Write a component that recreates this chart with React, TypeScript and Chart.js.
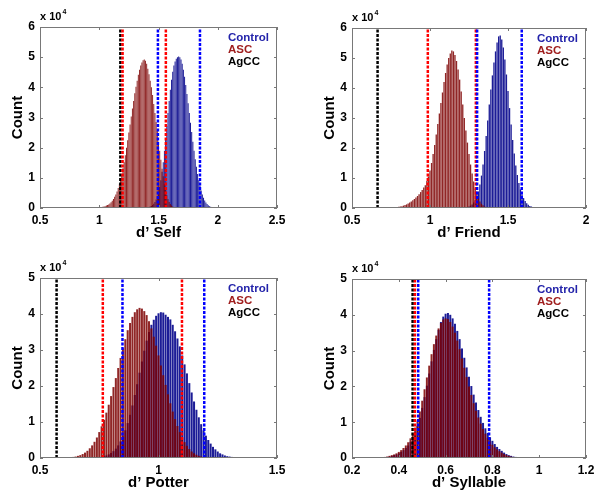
import React, { useEffect, useRef } from "react";
import { Chart, registerables } from "chart.js";
Chart.register(...registerables);

// Histogram bin width (d' units); counts are in units of 10^4
const BIN = 0.01;

// ---- d' Self ----
const selfAscStart = 0.98;
const selfAsc = [0.01, 0.01, 0.02, 0.02, 0.03, 0.04, 0.05, 0.06, 0.08, 0.1, 0.12, 0.15, 0.19, 0.24, 0.3, 0.37, 0.45, 0.55, 0.66, 0.8, 0.95, 1.12, 1.32, 1.52, 1.75, 2.0, 2.25, 2.5, 2.77, 3.03, 3.3, 3.55, 3.8, 4.02, 4.22, 4.42, 4.58, 4.72, 4.82, 4.9, 4.92, 4.88, 4.78, 4.62, 4.43, 4.22, 4.0, 3.75, 3.45, 3.15, 2.85, 2.55, 2.2, 1.9, 1.6, 1.3, 1.05, 0.8, 0.6, 0.43, 0.3, 0.2, 0.13, 0.08, 0.05, 0.03, 0.02, 0.01];
const selfControlStart = 1.4;
const selfControl = [0.01, 0.02, 0.03, 0.05, 0.07, 0.1, 0.14, 0.2, 0.28, 0.38, 0.52, 0.7, 0.92, 1.2, 1.52, 1.9, 2.3, 2.72, 3.15, 3.55, 3.92, 4.25, 4.52, 4.72, 4.86, 4.95, 5.0, 5.02, 5.0, 4.92, 4.78, 4.58, 4.35, 4.08, 3.78, 3.47, 3.15, 2.83, 2.52, 2.2, 1.9, 1.62, 1.37, 1.13, 0.92, 0.74, 0.58, 0.45, 0.34, 0.25, 0.18, 0.13, 0.09, 0.06, 0.04, 0.02, 0.01];
const selfControlLines = [1.495, 1.85];
const selfAscLines = [1.197, 1.562];
const selfAgccLines = [1.178];
const selfXTicks = [0.5, 1, 1.5, 2, 2.5];
const selfYTicks = [0, 1, 2, 3, 4, 5, 6];

// ---- d' Friend ----
const friendAscStart = 0.75;
const friendAsc = [0.01, 0.01, 0.02, 0.02, 0.03, 0.04, 0.05, 0.06, 0.08, 0.1, 0.12, 0.15, 0.18, 0.22, 0.26, 0.3, 0.35, 0.4, 0.46, 0.53, 0.6, 0.68, 0.76, 0.9, 1.05, 1.25, 1.5, 1.8, 2.1, 2.45, 2.8, 3.15, 3.5, 3.85, 4.2, 4.5, 4.78, 5.0, 5.15, 5.25, 5.22, 5.1, 4.9, 4.62, 4.28, 3.88, 3.45, 3.0, 2.58, 2.18, 1.8, 1.45, 1.15, 0.88, 0.65, 0.47, 0.33, 0.22, 0.14, 0.09, 0.05, 0.03, 0.02, 0.01];
const friendControlStart = 1.22;
const friendControl = [0.01, 0.02, 0.03, 0.05, 0.08, 0.12, 0.18, 0.26, 0.38, 0.55, 0.78, 1.08, 1.45, 1.9, 2.4, 2.92, 3.45, 3.95, 4.42, 4.85, 5.22, 5.52, 5.72, 5.75, 5.62, 5.35, 4.95, 4.45, 3.9, 3.33, 2.78, 2.27, 1.82, 1.42, 1.1, 0.83, 0.62, 0.45, 0.33, 0.23, 0.16, 0.11, 0.07, 0.05, 0.03, 0.02, 0.01, 0.01];
const friendControlLines = [1.302, 1.588];
const friendAscLines = [0.986, 1.294];
const friendAgccLines = [0.664];
const friendXTicks = [0.5, 1, 1.5, 2];
const friendYTicks = [0, 1, 2, 3, 4, 5, 6];

// ---- d' Potter ----
const potterAscStart = 0.62;
const potterAsc = [0.01, 0.02, 0.03, 0.04, 0.06, 0.08, 0.11, 0.15, 0.2, 0.27, 0.35, 0.45, 0.57, 0.72, 0.88, 1.06, 1.26, 1.48, 1.72, 1.97, 2.22, 2.5, 2.78, 3.05, 3.3, 3.55, 3.75, 3.92, 4.05, 4.13, 4.17, 4.15, 4.08, 3.97, 3.8, 3.6, 3.37, 3.12, 2.85, 2.57, 2.3, 2.03, 1.77, 1.52, 1.29, 1.08, 0.89, 0.72, 0.57, 0.44, 0.34, 0.25, 0.18, 0.13, 0.09, 0.06, 0.04, 0.02, 0.01];
const potterControlStart = 0.74;
const potterControl = [0.01, 0.02, 0.03, 0.05, 0.07, 0.1, 0.14, 0.19, 0.26, 0.35, 0.46, 0.6, 0.77, 0.97, 1.2, 1.46, 1.75, 2.05, 2.37, 2.68, 2.98, 3.26, 3.5, 3.7, 3.84, 3.95, 4.02, 4.05, 4.04, 3.98, 3.92, 3.85, 3.7, 3.52, 3.32, 3.1, 2.85, 2.6, 2.35, 2.08, 1.82, 1.57, 1.34, 1.13, 0.94, 0.77, 0.62, 0.5, 0.4, 0.31, 0.24, 0.18, 0.13, 0.1, 0.07, 0.05, 0.04, 0.03, 0.02, 0.01, 0.01];
const potterControlLines = [0.848, 1.193];
const potterAscLines = [0.765, 1.099];
const potterAgccLines = [0.57];
const potterXTicks = [0.5, 1, 1.5];
const potterYTicks = [0, 1, 2, 3, 4, 5];

// ---- d' Syllable ----
const syllAscStart = 0.3;
const syllAsc = [0.01, 0.01, 0.02, 0.02, 0.03, 0.04, 0.06, 0.08, 0.1, 0.13, 0.17, 0.22, 0.28, 0.35, 0.44, 0.55, 0.68, 0.85, 1.05, 1.3, 1.6, 1.92, 2.25, 2.58, 2.9, 3.18, 3.42, 3.62, 3.77, 3.87, 3.9, 3.88, 3.8, 3.67, 3.5, 3.28, 3.04, 2.78, 2.52, 2.26, 2.0, 1.76, 1.53, 1.32, 1.13, 0.96, 0.81, 0.68, 0.56, 0.46, 0.37, 0.3, 0.24, 0.19, 0.15, 0.11, 0.08, 0.06, 0.04, 0.03, 0.02, 0.01, 0.01];
const syllControlStart = 0.31;
const syllControl = [0.01, 0.01, 0.02, 0.02, 0.03, 0.04, 0.06, 0.08, 0.1, 0.13, 0.17, 0.22, 0.28, 0.35, 0.45, 0.57, 0.72, 0.9, 1.12, 1.4, 1.7, 2.02, 2.36, 2.7, 3.02, 3.32, 3.58, 3.8, 3.95, 4.03, 4.05, 4.0, 3.9, 3.75, 3.55, 3.32, 3.06, 2.8, 2.53, 2.27, 2.01, 1.77, 1.55, 1.34, 1.15, 0.98, 0.83, 0.7, 0.58, 0.48, 0.39, 0.31, 0.25, 0.2, 0.15, 0.11, 0.08, 0.06, 0.04, 0.03, 0.02, 0.01, 0.01];
const syllControlLines = [0.483, 0.786];
const syllAscLines = [0.469];
const syllAgccLines = [0.459];
const syllXTicks = [0.2, 0.4, 0.6, 0.8, 1, 1.2];
const syllYTicks = [0, 1, 2, 3, 4, 5];

const legendLabels = ["Control", "ASC", "AgCC"];
const legendColors = ["rgb(35,35,170)", "rgb(160,30,30)", "#000"];

const FONT = "'Liberation Sans', Arial, Helvetica, sans-serif";

function toPoints(start: number, values: number[]) {
  return values.map((v, i) => ({ x: Math.round((start + i * BIN) * 1000) / 1000, y: v }));
}

function fmt(v: number) {
  return String(Math.round(v * 100) / 100);
}

type Panel = {
  key: string;
  left: number;
  top: number;
  width: number;
  height: number;
  areaLeft: number;
  areaTop: number;
  areaRight: number;
  areaBottom: number;
  title: string;
  xTicks: number[];
  yTicks: number[];
  ascStart: number;
  asc: number[];
  ctrlStart: number;
  ctrl: number[];
  ctrlLines: number[];
  ascLines: number[];
  agccLines: number[];
};

const panels: Panel[] = [
  { key: "self", left: 0, top: 0, width: 300, height: 250, areaLeft: 40, areaTop: 27, areaRight: 277, areaBottom: 208, title: "d\u2019 Self", xTicks: selfXTicks, yTicks: selfYTicks, ascStart: selfAscStart, asc: selfAsc, ctrlStart: selfControlStart, ctrl: selfControl, ctrlLines: selfControlLines, ascLines: selfAscLines, agccLines: selfAgccLines },
  { key: "friend", left: 300, top: 0, width: 300, height: 250, areaLeft: 52, areaTop: 28, areaRight: 286, areaBottom: 208, title: "d\u2019 Friend", xTicks: friendXTicks, yTicks: friendYTicks, ascStart: friendAscStart, asc: friendAsc, ctrlStart: friendControlStart, ctrl: friendControl, ctrlLines: friendControlLines, ascLines: friendAscLines, agccLines: friendAgccLines },
  { key: "potter", left: 0, top: 250, width: 300, height: 252, areaLeft: 40, areaTop: 28, areaRight: 277, areaBottom: 208, title: "d\u2019 Potter", xTicks: potterXTicks, yTicks: potterYTicks, ascStart: potterAscStart, asc: potterAsc, ctrlStart: potterControlStart, ctrl: potterControl, ctrlLines: potterControlLines, ascLines: potterAscLines, agccLines: potterAgccLines },
  { key: "syll", left: 300, top: 250, width: 300, height: 252, areaLeft: 52, areaTop: 29, areaRight: 286, areaBottom: 208, title: "d\u2019 Syllable", xTicks: syllXTicks, yTicks: syllYTicks, ascStart: syllAscStart, asc: syllAsc, ctrlStart: syllControlStart, ctrl: syllControl, ctrlLines: syllControlLines, ascLines: syllAscLines, agccLines: syllAgccLines },
];

function lineDatasets(values: number[], color: string, yMax: number) {
  return values.map((v) => ({
    type: "line" as const,
    data: [
      { x: v, y: 0 },
      { x: v, y: yMax },
    ],
    borderColor: color,
    borderWidth: 2.5,
    borderDash: [3, 1.5],
    pointRadius: 0,
    fill: false,
    order: 0,
  }));
}

const frame = {
  id: "matlabFrame",
  afterDatasetsDraw(chart: any) {
    const { ctx, chartArea: a, scales } = chart;
    ctx.save();
    ctx.strokeStyle = "rgb(120,120,120)";
    ctx.lineWidth = 1;
    ctx.strokeRect(a.left + 0.5, a.top + 0.5, a.right - a.left - 1, a.bottom - a.top - 1);
    ctx.beginPath();
    const L = 3;
    for (const t of scales.x.ticks) {
      const px = Math.round(scales.x.getPixelForValue(t.value)) + 0.5;
      ctx.moveTo(px, a.bottom);
      ctx.lineTo(px, a.bottom - L);
      ctx.moveTo(px, a.top);
      ctx.lineTo(px, a.top + L);
    }
    for (const t of scales.y.ticks) {
      const py = Math.round(scales.y.getPixelForValue(t.value)) + 0.5;
      ctx.moveTo(a.left, py);
      ctx.lineTo(a.left + L, py);
      ctx.moveTo(a.right, py);
      ctx.lineTo(a.right - L, py);
    }
    ctx.stroke();
    ctx.restore();
  },
  afterDraw(chart: any) {
    const { ctx, chartArea: a } = chart;
    ctx.save();
    ctx.fillStyle = "#000";
    ctx.textBaseline = "middle";
    ctx.textAlign = "left";
    ctx.font = `bold 11px ${FONT}`;
    const base = "x 10";
    ctx.fillText(base, a.left, a.top - 10);
    const w = ctx.measureText(base).width;
    ctx.font = `bold 7px ${FONT}`;
    ctx.fillText("4", a.left + w + 1, a.top - 15);
    ctx.font = `bold 11.5px ${FONT}`;
    legendLabels.forEach((lab, i) => {
      ctx.fillStyle = legendColors[i];
      ctx.fillText(lab, a.right - 49, a.top + 11 + i * 12);
    });
    ctx.restore();
  },
};

function PanelChart({ p }: { p: Panel }) {
  const ref = useRef<HTMLCanvasElement | null>(null);
  useEffect(() => {
    if (!ref.current) return;
    const xMin = p.xTicks[0];
    const xMax = p.xTicks[p.xTicks.length - 1];
    const yMax = p.yTicks[p.yTicks.length - 1];
    const chart = new Chart(ref.current, {
      type: "bar",
      data: {
        datasets: [
          ...lineDatasets(p.ctrlLines, "#0000ff", yMax),
          ...lineDatasets(p.ascLines, "#ff0000", yMax),
          ...lineDatasets(p.agccLines, "#000000", yMax),
          {
            type: "bar",
            label: "ASC",
            data: toPoints(p.ascStart, p.asc),
            backgroundColor: "rgba(125,0,0,0.85)",
            borderWidth: 0,
            barPercentage: 0.85,
            categoryPercentage: 1,
            grouped: false,
            order: 1,
          },
          {
            type: "bar",
            label: "Control",
            data: toPoints(p.ctrlStart, p.ctrl),
            backgroundColor: "rgb(28,28,150)",
            borderWidth: 0,
            barPercentage: 0.85,
            categoryPercentage: 1,
            grouped: false,
            order: 2,
          },
        ] as any,
      },
      options: {
        responsive: false,
        animation: false,
        layout: { padding: { left: 0, top: p.areaTop, right: p.width - p.areaRight, bottom: 0 } },
        plugins: { legend: { display: false }, tooltip: { enabled: false } },
        scales: {
          x: {
            type: "linear",
            min: xMin,
            max: xMax,
            offset: false,
            grid: { display: false, drawTicks: false },
            border: { display: false },
            ticks: {
              color: "#000",
              font: { family: FONT, size: 12, weight: "bold" },
              padding: 5,
              maxRotation: 0,
              autoSkip: false,
              callback: (v: any) => fmt(Number(v)),
            },
            afterBuildTicks: (s: any) => {
              s.ticks = p.xTicks.map((v) => ({ value: v }));
            },
            afterFit: (s: any) => {
              s.height = p.height - p.areaBottom;
            },
            title: {
              display: true,
              text: p.title,
              color: "#000",
              font: { family: FONT, size: 15, weight: "bold" },
              padding: { top: 0, bottom: p.height - 233 - 9 },
            },
          },
          y: {
            min: 0,
            max: yMax,
            grid: { display: false, drawTicks: false },
            border: { display: false },
            ticks: {
              color: "#000",
              font: { family: FONT, size: 12, weight: "bold" },
              padding: 5,
              autoSkip: false,
              callback: (v: any) => fmt(Number(v)),
            },
            afterBuildTicks: (s: any) => {
              s.ticks = p.yTicks.map((v) => ({ value: v }));
            },
            afterFit: (s: any) => {
              s.width = p.areaLeft;
            },
            title: {
              display: true,
              text: "Count",
              color: "#000",
              font: { family: FONT, size: 15, weight: "bold" },
              padding: { top: p.areaLeft - 22 - 9, bottom: 0 },
            },
          },
        },
      } as any,
      plugins: [frame],
    });
    return () => chart.destroy();
  }, [p]);
  return (
    <canvas
      ref={ref}
      width={p.width}
      height={p.height}
      style={{ position: "absolute", left: p.left, top: p.top, width: p.width, height: p.height }}
    />
  );
}

export default function App() {
  return (
    <div style={{ position: "fixed", left: 0, top: 0, width: 600, height: 502, background: "#fff" }}>
      {panels.map((p) => (
        <PanelChart key={p.key} p={p} />
      ))}
    </div>
  );
}
